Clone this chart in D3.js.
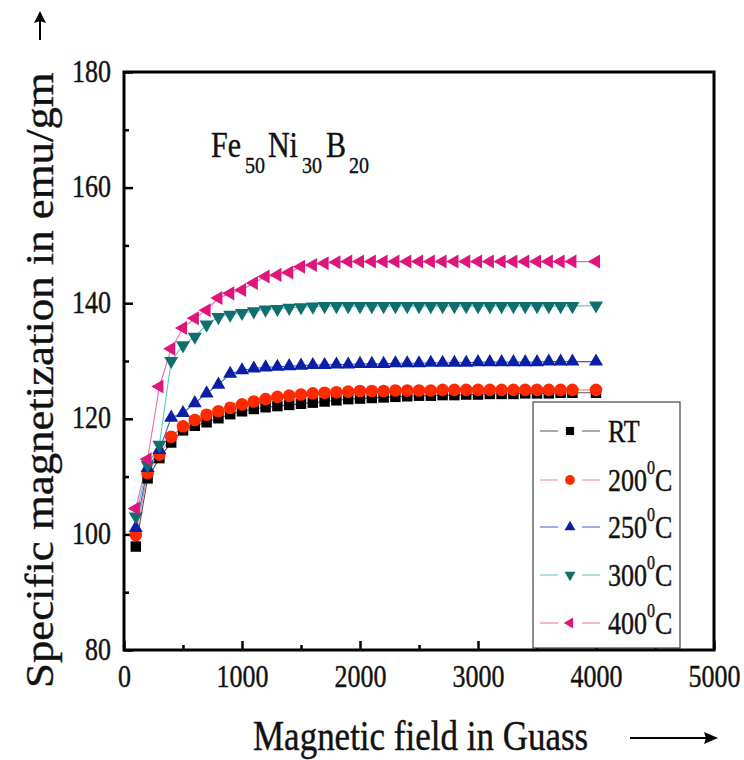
<!DOCTYPE html>
<html>
<head>
<meta charset="utf-8">
<script src="https://cdn.jsdelivr.net/npm/d3@7/dist/d3.min.js"></script>
<style>
  html, body { margin: 0; padding: 0; background: #ffffff; }
  svg { display: block; }
  text { font-family: "Liberation Serif", "Times New Roman", serif; fill: #111; stroke: #111; stroke-width: 0.35px; }
</style>
</head>
<body>
<script>
// Magnetic field (Gauss) at which each sample was measured
const fieldG = [100, 200, 300, 400, 500, 600, 700, 800, 900, 1000,
  1100, 1200, 1300, 1400, 1500, 1600, 1700, 1800, 1900, 2000,
  2100, 2200, 2300, 2400, 2500, 2600, 2700, 2800, 2900, 3000,
  3100, 3200, 3300, 3400, 3500, 3600, 3700, 3800, 4000];

// Specific magnetization (emu/gm) for each annealing condition
const magRT = [97.9, 109.7, 113.2, 115.9, 118.0, 118.8, 119.4, 120.1, 120.8, 121.3,
  121.7, 122.0, 122.2, 122.4, 122.6, 122.8, 123.0, 123.2, 123.4, 123.5,
  123.6, 123.7, 123.8, 123.9, 124.0, 124.0, 124.1, 124.1, 124.2, 124.2,
  124.3, 124.3, 124.3, 124.4, 124.4, 124.4, 124.5, 124.5, 124.5];
const mag200 = [99.9, 110.6, 113.8, 116.9, 118.7, 119.8, 120.7, 121.3, 121.9, 122.5,
  123.0, 123.4, 123.8, 124.0, 124.2, 124.4, 124.5, 124.6, 124.7, 124.8,
  124.8, 124.8, 124.9, 124.9, 124.9, 124.9, 125.0, 125.0, 125.0, 125.0,
  125.0, 125.0, 125.0, 125.0, 125.0, 125.0, 125.0, 125.0, 125.0];
const mag250 = [101.1, 111.5, 114.6, 120.2, 121.0, 122.7, 124.4, 125.9, 127.8, 128.4,
  128.7, 128.9, 129.0, 129.1, 129.2, 129.3, 129.3, 129.4, 129.4, 129.5,
  129.5, 129.5, 129.6, 129.6, 129.6, 129.7, 129.7, 129.7, 129.7, 129.8,
  129.8, 129.8, 129.8, 129.8, 129.8, 129.9, 129.9, 129.9, 129.9];
const mag300 = [103.1, 112.0, 115.5, 130.0, 132.7, 134.2, 136.3, 137.6, 138.0, 138.3,
  138.6, 138.9, 139.0, 139.2, 139.3, 139.4, 139.5, 139.5, 139.5, 139.5,
  139.5, 139.5, 139.5, 139.5, 139.5, 139.5, 139.5, 139.5, 139.5, 139.5,
  139.5, 139.5, 139.5, 139.5, 139.5, 139.5, 139.5, 139.5, 139.6];
const mag400 = [104.5, 113.0, 125.6, 132.1, 135.7, 137.4, 138.8, 140.9, 141.7, 142.3,
  143.5, 144.6, 144.9, 145.3, 146.3, 146.6, 146.9, 147.1, 147.2, 147.2,
  147.2, 147.2, 147.2, 147.2, 147.2, 147.2, 147.2, 147.2, 147.2, 147.2,
  147.2, 147.2, 147.2, 147.2, 147.2, 147.2, 147.2, 147.2, 147.2];

const seriesLabels = ["RT", "200", "250", "300", "400"];
const xTickValues = [0, 1000, 2000, 3000, 4000, 5000];
const xMinorValues = [500, 1500, 2500, 3500, 4500];
const yTickValues = [80, 100, 120, 140, 160, 180];
const yMinorValues = [90, 110, 130, 150, 170];

// Styling per series
const markerColors = ["#000000", "#ff2a00", "#0a1fa6", "#0e6e70", "#de157a"];
const lineColors = ["#555555", "#f4878c", "#3a5cc8", "#5cc4c4", "#ec6aa8"];
const symbolTypes = [d3.symbolSquare, d3.symbolCircle, d3.symbolTriangle, d3.symbolTriangle, d3.symbolTriangle];
const symbolRotate = [0, 0, 0, 180, -90];
const symbolSizes = [110, 125, 85, 85, 85];

const seriesValues = [magRT, mag200, mag250, mag300, mag400];
const series = seriesLabels.map((name, i) => ({
  name,
  points: fieldG.map((f, j) => ({ f, m: seriesValues[i][j] }))
}));

const W = 744, H = 760;
const plot = { left: 124, right: 714, top: 72, bottom: 650 };
const SY = 1.2; // tall, narrow lettering

const svg = d3.select("body").append("svg").attr("width", W).attr("height", H);

const x = d3.scaleLinear().domain([0, 5000]).range([plot.left, plot.right]);
const y = d3.scaleLinear().domain([80, 180]).range([plot.bottom, plot.top]);

// Inward-pointing axis ticks
const gx = svg.append("g").attr("transform", `translate(0,${plot.bottom})`)
  .call(d3.axisBottom(x).tickValues(xTickValues).tickSize(-9).tickFormat(d3.format("d")));
svg.append("g").attr("transform", `translate(0,${plot.bottom})`)
  .call(d3.axisBottom(x).tickValues(xMinorValues).tickSize(-5).tickFormat(""))
  .call(g => g.select(".domain").remove())
  .call(g => g.selectAll("line").attr("stroke", "#000").attr("stroke-width", 2.5));
gx.select(".domain").remove();
gx.selectAll("line").attr("stroke", "#000").attr("stroke-width", 2.5);
gx.selectAll("text")
  .attr("y", 37 / SY).attr("dy", null)
  .attr("transform", `scale(1,${SY})`)
  .style("font-size", "26px").style("font-family", "'Liberation Serif', serif").attr("fill", "#111");

const gy = svg.append("g").attr("transform", `translate(${plot.left},0)`)
  .call(d3.axisLeft(y).tickValues(yTickValues).tickSize(-9).tickFormat(d3.format("d")));
svg.append("g").attr("transform", `translate(${plot.left},0)`)
  .call(d3.axisLeft(y).tickValues(yMinorValues).tickSize(-5).tickFormat(""))
  .call(g => g.select(".domain").remove())
  .call(g => g.selectAll("line").attr("stroke", "#000").attr("stroke-width", 2.5));
gy.select(".domain").remove();
gy.selectAll("line").attr("stroke", "#000").attr("stroke-width", 2.5);
gy.selectAll("text")
  .attr("x", -13).attr("y", 9 / SY).attr("dy", null)
  .attr("transform", `scale(1,${SY})`)
  .style("font-size", "26px").style("font-family", "'Liberation Serif', serif").attr("fill", "#111");

// Connecting lines
const line = d3.line().x(d => x(d.f)).y(d => y(d.m));
series.forEach((s, i) => {
  svg.append("path").datum(s.points)
    .attr("d", line).attr("fill", "none")
    .attr("stroke", lineColors[i]).attr("stroke-width", 1.1);
});

// Markers, later series drawn on top
series.forEach((s, i) => {
  const sym = d3.symbol().type(symbolTypes[i]).size(symbolSizes[i]);
  svg.append("g").selectAll("path").data(s.points).join("path")
    .attr("d", sym)
    .attr("transform", d => `translate(${x(d.f)},${y(d.m)}) rotate(${symbolRotate[i]})`)
    .attr("fill", markerColors[i]);
});

// Legend
const lg = { left: 533, top: 402, right: 680, bottom: 648 };
svg.append("rect")
  .attr("x", lg.left).attr("y", lg.top)
  .attr("width", lg.right - lg.left).attr("height", lg.bottom - lg.top)
  .attr("fill", "#fff").attr("stroke", "#444").attr("stroke-width", 1.2);
const entryY = [431, 480, 527, 575, 623];
series.forEach((s, i) => {
  const ey = entryY[i];
  svg.append("line").attr("x1", 540).attr("x2", 600).attr("y1", ey).attr("y2", ey)
    .attr("stroke", lineColors[i]).attr("stroke-width", 1.1);
  svg.append("rect").attr("x", 558).attr("y", ey - 1).attr("width", 24).attr("height", 2).attr("fill", "#fff");
  svg.append("path")
    .attr("d", d3.symbol().type(symbolTypes[i]).size(symbolSizes[i] * 0.6))
    .attr("transform", `translate(570,${ey}) rotate(${symbolRotate[i]})`)
    .attr("fill", markerColors[i]);
  const t = svg.append("text")
    .attr("transform", `translate(608,${ey + 11}) scale(1,${SY})`)
    .style("font-size", "26px");
  if (s.name === "RT") {
    t.text("RT");
  } else {
    t.append("tspan").text(s.name);
    t.append("tspan").attr("dy", -14).style("font-size", "16px").text("0");
    t.append("tspan").attr("dy", 14).text("C");
  }
});

// Frame
svg.append("rect")
  .attr("x", plot.left).attr("y", plot.top)
  .attr("width", plot.right - plot.left).attr("height", plot.bottom - plot.top)
  .attr("fill", "none").attr("stroke", "#000").attr("stroke-width", 3);

// Composition label
const comp = svg.append("text")
  .attr("transform", `translate(211,157) scale(1,${SY})`)
  .style("font-size", "30px");
comp.append("tspan").text("Fe");
comp.append("tspan").attr("dx", 4).attr("dy", 13).style("font-size", "20px").text("50");
comp.append("tspan").attr("dx", 3).attr("dy", -13).text("Ni");
comp.append("tspan").attr("dx", 4).attr("dy", 13).style("font-size", "20px").text("30");
comp.append("tspan").attr("dx", 4).attr("dy", -13).text("B");
comp.append("tspan").attr("dx", 3).attr("dy", 13).style("font-size", "20px").text("20");

// Axis titles with direction arrows
svg.append("text")
  .attr("transform", `translate(253,750) scale(1,${SY})`)
  .style("font-size", "35px")
  .text("Magnetic field in Guass");
svg.append("line").attr("x1", 630).attr("x2", 708).attr("y1", 738).attr("y2", 738)
  .attr("stroke", "#000").attr("stroke-width", 2);
svg.append("path").attr("d", "M718,738 L704,732 L706,738 L704,744 Z").attr("fill", "#000");

svg.append("text")
  .attr("transform", "translate(53,688) rotate(-90) scale(1.12,1)")
  .style("font-size", "40px")
  .text("Specific magnetization in emu/gm");
svg.append("line").attr("x1", 40).attr("x2", 40).attr("y1", 40).attr("y2", 20)
  .attr("stroke", "#000").attr("stroke-width", 2);
svg.append("path").attr("d", "M40,11 L34,23 L40,21 L46,23 Z").attr("fill", "#000");
</script>
</body>
</html>
